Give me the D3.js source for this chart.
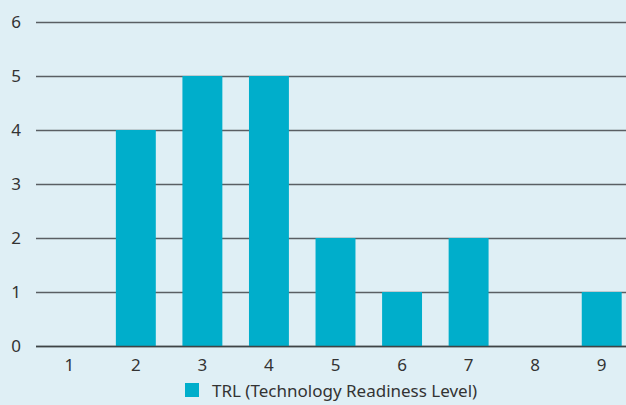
<!DOCTYPE html>
<html>
<head>
<meta charset="utf-8">
<script src="https://cdn.jsdelivr.net/npm/d3@7"></script>
<style>
  html, body { margin: 0; padding: 0; background: #dfeff5; }
  svg { display: block; }
</style>
</head>
<body>
<svg id="chart"></svg>
<script>
const categories = ["1", "2", "3", "4", "5", "6", "7", "8", "9"];
const values = [0, 4, 5, 5, 2, 1, 2, 0, 1];
const yTicks = [0, 1, 2, 3, 4, 5, 6];
const seriesName = "TRL (Technology Readiness Level)";

const width = 626, height = 405;
const margin = { top: 22, right: -9, bottom: 59, left: 36 };
const font = "'Noto Sans', sans-serif";

const svg = d3.select("#chart").attr("width", width).attr("height", height);
svg.append("rect").attr("width", width).attr("height", height).attr("fill", "#dfeff5");

const xScale = d3.scaleBand()
	.domain(categories)
	.range([margin.left, width - margin.right])
	.paddingInner(0.4)
	.paddingOuter(0.2);

const yScale = d3.scaleLinear()
	.domain([0, 6])
	.range([height - margin.bottom, margin.top]);

// gridlines
svg.append("g")
	.selectAll("line")
	.data(yTicks)
	.enter()
	.append("line")
	.attr("x1", margin.left)
	.attr("x2", width)
	.attr("y1", (d) => yScale(d) + 0.5)
	.attr("y2", (d) => yScale(d) + 0.5)
	.attr("stroke", "#5a5f63")
	.attr("stroke-width", 1.5);

// y labels
svg.append("g")
	.selectAll("text")
	.data(yTicks)
	.enter()
	.append("text")
	.text((d) => d)
	.attr("x", 16)
	.attr("y", (d) => yScale(d) + 5.5)
	.attr("text-anchor", "middle")
	.attr("fill", "#333")
	.style("font-family", font)
	.style("font-size", "17px");

// bars
svg.append("g")
	.selectAll("rect")
	.data(values)
	.enter()
	.append("rect")
	.attr("x", (_, i) => xScale(categories[i]))
	.attr("y", (d) => yScale(d))
	.attr("width", xScale.bandwidth())
	.attr("height", (d) => yScale(0) - yScale(d))
	.attr("fill", "#00aecb");

// baseline on top
svg.append("line")
	.attr("x1", margin.left)
	.attr("x2", width)
	.attr("y1", yScale(0) + 0.5)
	.attr("y2", yScale(0) + 0.5)
	.attr("stroke", "#3f4446")
	.attr("stroke-width", 1.5);

// x labels
svg.append("g")
	.selectAll("text")
	.data(categories)
	.enter()
	.append("text")
	.text((d) => d)
	.attr("x", (d) => xScale(d) + xScale.bandwidth() / 2)
	.attr("y", yScale(0) + 25)
	.attr("text-anchor", "middle")
	.attr("fill", "#333")
	.style("font-family", font)
	.style("font-size", "17px");

// legend
const legend = svg.append("g").attr("transform", "translate(185,383)");
legend.append("rect").attr("width", 14).attr("height", 14).attr("fill", "#00aecb");
legend.append("text")
	.text(seriesName)
	.attr("x", 27)
	.attr("y", 14)
	.attr("fill", "#333")
	.style("font-family", font)
	.style("font-size", "17px");
</script>
</body>
</html>
